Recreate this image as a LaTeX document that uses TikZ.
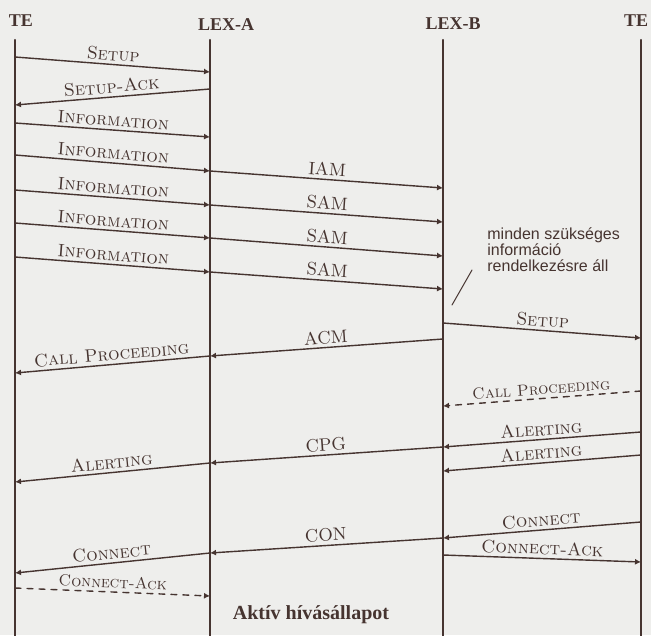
\documentclass[tikz,border=0pt]{standalone}
\usepackage{fontspec}
\newfontfamily\notefont{Liberation Sans}
\newfontfamily\headfont{Liberation Serif}
\usetikzlibrary{arrows.meta}
\definecolor{ink}{RGB}{70,52,48}
\definecolor{paper}{RGB}{238,238,236}
\tikzset{
  life/.style={line width=1.1pt},
  msg/.style={line width=0.7pt,-{Latex[length=3pt,width=3pt]}},
  msgdash/.style={msg,dash pattern=on 3pt off 3pt},
  lbl/.style={midway,above,sloped,inner sep=1.5pt,font=\small},
  head/.style={font=\headfont\bfseries\small},
}
\begin{document}
\begin{tikzpicture}[line cap=round,line join=round,x=0.5pt,y=-0.5pt,color=ink]
	\fill[paper] (0,0) rectangle (651,635);
	\useasboundingbox (0,0) rectangle (651,635);
	% heads of the four lifelines
	\node[head] (teA) at (21,21) {TE};
	\node[head] (lexA) at (226,25) {LEX-A};
	\node[head] (lexB) at (453,24) {LEX-B};
	\node[head] (teB) at (636,21) {TE};
	\coordinate (p1) at (15,40);
	\coordinate (p2) at (210,40);
	\coordinate (p3) at (443,40);
	\coordinate (p4) at (641,40);
	\draw [life] (p1) -- (p1 |- 0,640);
	\draw [life] (p2) -- (p2 |- 0,640);
	\draw [life] (p3) -- (p3 |- 0,640);
	\draw [life] (p4) -- (p4 |- 0,640);
	% calling side
	\draw [msg] (p1 |- 0,57) -- (p2 |- 0,72) node[lbl] (m1) {\textsc{Setup}};
	\draw [msg] (p2 |- 0,89) -- (p1 |- 0,105) node[lbl] (m2) {\textsc{Setup-Ack}};
	\draw [msg] (p1 |- 0,123) -- (p2 |- 0,137) node[lbl] (m3) {\textsc{Information}};
	\draw [msg] (p1 |- 0,155) -- (p2 |- 0,171) node[lbl] (m4) {\textsc{Information}};
	\draw [msg] (p2 |- 0,171) -- (p3 |- 0,188) node[lbl] (m5) {IAM};
	\draw [msg] (p1 |- 0,190) -- (p2 |- 0,205) node[lbl] (m6) {\textsc{Information}};
	\draw [msg] (p2 |- 0,205) -- (p3 |- 0,222) node[lbl] (m7) {SAM};
	\draw [msg] (p1 |- 0,223) -- (p2 |- 0,238) node[lbl] (m8) {\textsc{Information}};
	\draw [msg] (p2 |- 0,238) -- (p3 |- 0,256) node[lbl] (m9) {SAM};
	\draw [msg] (p1 |- 0,257) -- (p2 |- 0,272) node[lbl] (m10) {\textsc{Information}};
	\draw [msg] (p2 |- 0,272) -- (p3 |- 0,289) node[lbl] (m11) {SAM};
	% note at LEX-B
	\node[font=\notefont\fontsize{8}{8}\selectfont,align=left,anchor=north west,inner sep=0pt] (note) at (487,227) {minden szükséges\\információ\\rendelkezésre áll};
	\coordinate (n1) at (472,270);
	\coordinate (n2) at (452,305);
	\draw [line width=0.5pt] (n1) -- (n2);
	% called side
	\draw [msg] (p3 |- 0,323) -- (p4 |- 0,338) node[lbl] (m12) {\textsc{Setup}};
	\draw [msg] (p3 |- 0,339) -- (p2 |- 0,356) node[lbl] (m13) {ACM};
	\draw [msg] (p2 |- 0,356) -- (p1 |- 0,373) node[lbl] (m14) {\textsc{Call Proceeding}};
	\draw [msgdash] (p4 |- 0,391) -- (p3 |- 0,406) node[lbl,font=\footnotesize] (m15) {\textsc{Call Proceeding}};
	\draw [msg] (p4 |- 0,432) -- (p3 |- 0,447) node[lbl] (m16) {\textsc{Alerting}};
	\draw [msg] (p3 |- 0,447) -- (p2 |- 0,463) node[lbl] (m17) {CPG};
	\draw [msg] (p2 |- 0,463) -- (p1 |- 0,482) node[lbl] (m18) {\textsc{Alerting}};
	\draw [msg] (p4 |- 0,455) -- (p3 |- 0,471) node[lbl] (m19) {\textsc{Alerting}};
	\draw [msg] (p4 |- 0,522) -- (p3 |- 0,538) node[lbl] (m20) {\textsc{Connect}};
	\draw [msg] (p3 |- 0,538) -- (p2 |- 0,553) node[lbl] (m21) {CON};
	\draw [msg] (p2 |- 0,553) -- (p1 |- 0,573) node[lbl] (m22) {\textsc{Connect}};
	\draw [msg] (p3 |- 0,555) -- (p4 |- 0,562) node[lbl] (m23) {\textsc{Connect-Ack}};
	\draw [msgdash] (p1 |- 0,588) -- (p2 |- 0,596) node[lbl,font=\footnotesize] (m24) {\textsc{Connect-Ack}};
	\node[font=\headfont\bfseries] (state) at (311,615) {Aktív hívásállapot};
\end{tikzpicture}
\end{document}
